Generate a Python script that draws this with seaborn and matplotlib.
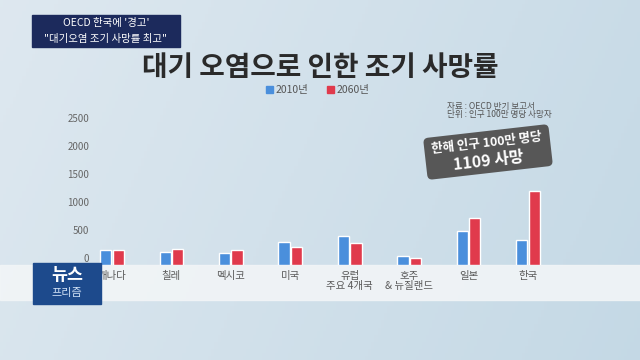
import numpy as np
import pandas as pd
import matplotlib
matplotlib.use("Agg")
import matplotlib.pyplot as plt
import seaborn as sns
from matplotlib.patches import Rectangle, FancyBboxPatch
from matplotlib.transforms import Affine2D, ScaledTranslation

# 데이터 (그림에서 읽은 값, 인구 100만 명당 사망자)
countries = ["캐나다", "칠레", "멕시코", "미국", "유럽\n주요 4개국", "호주\n& 뉴질랜드", "일본", "한국"]
v2010 = [268, 238, 208, 411, 518, 161, 607, 446]
v2060 = [268, 280, 268, 327, 387, 119, 845, 1327]
years = ["2010년", "2060년"]
yticks = [0, 500, 1000, 1500, 2000, 2500]

df = pd.DataFrame({
    "country": countries * 2,
    "year": [years[0]] * len(countries) + [years[1]] * len(countries),
    "value": v2010 + v2060,
})

sns.set_theme(style="white")
plt.rcParams["font.family"] = ["Noto Sans CJK KR", "DejaVu Sans"]

W, H = 640, 360
fig = plt.figure(figsize=(6.4, 3.6), dpi=100)

def fx(px):
    return px / W

def fy(py):
    return 1 - py / H

# 배경
bg = fig.add_axes([0, 0, 1, 1], zorder=0)
gx = np.linspace(0, 1, 200)
gy = np.linspace(0, 1, 100)
GX, GY = np.meshgrid(gx, gy)
c_left = np.array([0.87, 0.91, 0.94])
c_right = np.array([0.77, 0.85, 0.90])
t = np.clip(GX * 0.8 + GY * 0.2, 0, 1)[..., None]
img = c_left * (1 - t) + c_right * t
bg.imshow(img, extent=[0, 1, 0, 1], aspect="auto", origin="upper")
bg.add_patch(Rectangle((0, fy(300)), 1, fy(265) - fy(300), color="#f2f5f7", alpha=0.9))
bg.set_xlim(0, 1)
bg.set_ylim(0, 1)
bg.axis("off")

# 막대 그래프
ax = fig.add_axes([fx(95), fy(265), fx(640) - fx(95), fy(110) - fy(265)], zorder=2)
ax.patch.set_alpha(0)
sns.barplot(data=df, x="country", y="value", hue="year",
            palette=["#4a8fdc", "#e03a4c"], width=0.42, gap=0.1,
            saturation=1, legend=False, ax=ax)
ax.set_xlim(-0.286, 8.885)
ax.set_ylim(0, 2768)
ax.set_yticks(yticks)
ax.set_yticklabels([str(v) for v in yticks])
ax.set_xlabel("")
ax.set_ylabel("")
sns.despine(ax=ax, left=True, bottom=True)
ax.tick_params(axis="y", length=0, pad=4, labelsize=7, labelcolor="#666666")
ax.tick_params(axis="x", length=0, pad=4, labelsize=7.5, labelcolor="#5a5a5a")
shift = ScaledTranslation(0, 7 / 100, fig.dpi_scale_trans)
for lab in ax.get_yticklabels():
    lab.set_transform(lab.get_transform() + shift)
for lab in ax.get_xticklabels():
    lab.set_linespacing(1.1)

# 제목
fig.text(0.5, fy(68), "대기 오염으로 인한 조기 사망률", ha="center", va="center",
         fontsize=20, fontweight="bold", color="#2a2a2a")

# 범례
fig.patches.append(Rectangle((fx(266), fy(93)), fx(7), fy(86) - fy(93),
                             color="#4a8fdc", transform=fig.transFigure))
fig.text(fx(276), fy(89.5), years[0], ha="left", va="center", fontsize=7.5, color="#555555")
fig.patches.append(Rectangle((fx(327), fy(93)), fx(7), fy(86) - fy(93),
                             color="#e03a4c", transform=fig.transFigure))
fig.text(fx(337), fy(89.5), years[1], ha="left", va="center", fontsize=7.5, color="#555555")

# 출처
fig.text(fx(447), fy(106), "자료 : OECD 반기 보고서", ha="left", va="center",
         fontsize=6.2, color="#555555")
fig.text(fx(447), fy(114), "단위 : 인구 100만 명당 사망자", ha="left", va="center",
         fontsize=6.2, color="#555555")

# 좌상단 자막
fig.patches.append(Rectangle((fx(32), fy(47)), fx(148), fy(15) - fy(47),
                             color="#1c2a5c", transform=fig.transFigure))
fig.text(fx(106), fy(23), "OECD 한국에 '경고'", ha="center", va="center",
         fontsize=7.5, color="white")
fig.text(fx(106), fy(39), "\"대기오염 조기 사망률 최고\"", ha="center", va="center",
         fontsize=7.5, color="white")

# 주석 상자 (기울어짐)
cx, cy = 488, H - 152
ang = 6.5
bw, bh = 126, 42
rot = Affine2D().rotate_deg_around(cx, cy, ang).scale(1 / 100) + fig.dpi_scale_trans
box = FancyBboxPatch((cx - bw / 2, cy - bh / 2), bw, bh,
                     boxstyle="round,pad=0,rounding_size=5",
                     fc="#575757", ec="none", transform=rot, zorder=5)
fig.patches.append(box)
a = np.deg2rad(ang)
for dy, txt, fs in [(8.5, "한해 인구 100만 명당", 9), (-9, "1109 사망", 11.5)]:
    px = cx - dy * np.sin(a)
    py = cy + dy * np.cos(a)
    fig.text(px / W, py / H, txt, ha="center", va="center", rotation=ang,
             rotation_mode="anchor", fontsize=fs, fontweight="bold",
             color="white", zorder=6)

# 뉴스 프리즘 로고
fig.patches.append(Rectangle((fx(33), fy(304)), fx(68), fy(263) - fy(304),
                             color="#1d4a8c", transform=fig.transFigure, zorder=7))
fig.text(fx(67), fy(275), "뉴스", ha="center", va="center", fontsize=12.5,
         fontweight="bold", color="white", zorder=8)
fig.text(fx(67), fy(293), "프리즘", ha="center", va="center", fontsize=8,
         color="#cfe0f5", zorder=8)

fig.savefig("out.png", dpi=100)
